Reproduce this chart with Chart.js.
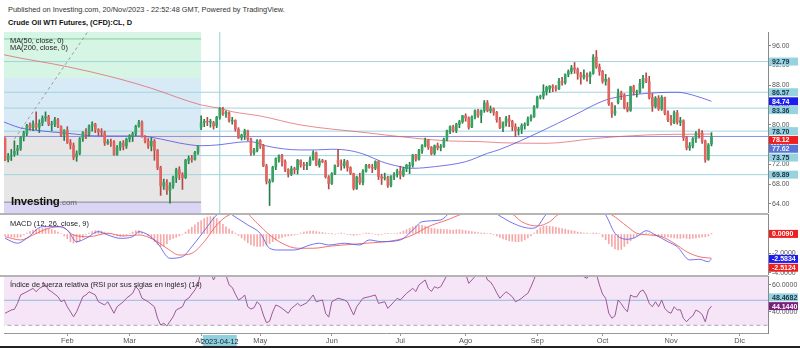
<!DOCTYPE html>
<html lang="es">
<head>
<meta charset="utf-8">
<title>Crude Oil WTI Futures, (CFD):CL, D</title>
<script src="https://cdn.jsdelivr.net/npm/chart.js@4.4.1/dist/chart.umd.min.js"></script>
<style>
  html, body { margin: 0; padding: 0; background: #fff; }
  body { position: relative; width: 800px; height: 348px; overflow: hidden; font-family: "Liberation Sans", Arial, sans-serif; }
  canvas { position: absolute; left: 0; }
  .txt { position: absolute; white-space: nowrap; line-height: 1; font-size: 7.4px; color: #333; }
  .sep { position: absolute; left: 0; width: 768px; height: 2px; background: #b4b4b4; }
  .logo { position: absolute; left: 11px; top: 195.5px; line-height: 1; font-size: 11.5px; font-weight: bold; color: #111; letter-spacing: -0.2px; }
  .logo span { font-size: 8px; font-weight: normal; color: #666; letter-spacing: 0; }
</style>
</head>
<body>
<div class="txt" style="left:8px;top:5.6px;">Published on Investing.com, 20/Nov/2023 - 22:52:48 GMT, Powered by TradingView.</div>
<div class="txt" style="left:8px;top:18.8px;font-weight:bold;color:#111;">Crude Oil WTI Futures, (CFD):CL, D</div>

<canvas id="priceChart" width="800" height="181" style="top:32px"></canvas>
<canvas id="macdChart" width="800" height="61" style="top:214px"></canvas>
<canvas id="rsiChart" width="800" height="72" style="top:276px"></canvas>

<div class="sep" style="top:212.5px"></div>
<div class="sep" style="top:274.5px"></div>
<div style="position:absolute;left:0;top:346px;width:800px;height:2px;background:#222"></div>

<div class="txt" style="left:10px;top:37.2px;color:#222;">MA(50, close, 0)</div>
<div class="txt" style="left:10px;top:44.4px;color:#222;">MA(200, close, 0)</div>
<div class="logo">Investing<span>.com</span></div>
<div class="txt" style="left:10px;top:220.4px;color:#222;">MACD (12, 26, close, 9)</div>
<div class="txt" style="left:10px;top:281.4px;color:#222;">Índice de fuerza relativa (RSI por sus siglas en inglés) (14)</div>

<script>
// daily bars, Jan 3 -> Nov 20 2023: [open, high, low, close]
const ohlc = [
  [80.57,81.50,76.60,76.93],[77.25,77.42,72.74,72.84],[72.90,74.19,72.46,73.67],[73.70,75.00,72.75,73.77],
  [74.00,76.74,73.60,74.63],[74.80,75.83,73.90,75.12],[75.20,77.60,74.80,77.41],[77.50,78.70,76.70,78.39],[78.20,80.10,77.80,79.86],
  [79.90,80.40,78.90,79.40],[79.40,80.80,78.80,80.18],[80.20,82.60,79.00,79.48],[79.50,81.00,78.40,80.33],[80.40,81.80,79.80,81.31],
  [81.40,82.60,80.70,81.62],[81.60,81.90,79.80,80.13],[80.00,80.70,78.80,80.15],[80.10,81.50,79.60,81.01],[81.00,81.30,79.40,79.68],
  [79.60,79.80,77.60,77.90],[77.90,79.00,76.80,78.87],
  // Feb
  [78.90,79.60,76.20,76.41],[76.40,77.00,75.10,75.88],[75.80,76.30,72.90,73.39],
  [73.50,74.70,72.60,74.11],[74.20,77.40,73.90,77.14],[77.20,78.60,76.60,78.47],[78.40,79.20,77.20,78.06],[78.10,80.00,77.70,79.72],
  [79.70,80.60,78.70,80.14],[80.10,80.30,78.40,79.06],[79.00,79.20,77.80,78.59],[78.60,79.20,77.80,78.49],[78.40,78.70,75.80,76.34],
  [76.30,77.00,76.00,76.55],[76.50,77.10,75.60,76.36],[76.40,76.80,73.80,73.95],[74.00,75.80,73.80,75.39],[75.40,76.60,74.80,76.32],
  [76.30,76.80,74.90,75.68],[75.70,77.30,75.20,77.05],
  // Mar
  [77.10,78.00,76.50,77.69],[77.70,78.50,76.60,78.16],[78.20,79.90,77.80,79.68],
  [79.70,80.90,79.50,80.46],[80.50,80.80,77.50,77.58],[77.60,77.80,76.30,76.66],[76.70,77.20,75.20,75.72],[75.70,77.40,74.70,76.68],
  [76.70,77.00,72.80,74.80],[74.80,75.00,70.90,71.33],[71.30,71.60,65.70,67.61],[67.60,69.00,66.90,68.35],[68.30,68.90,65.90,66.74],
  [66.70,68.30,64.12,67.64],[67.60,69.60,67.10,69.33],[69.30,71.20,68.30,70.90],[70.90,71.50,68.90,69.96],[69.90,70.30,66.90,69.26],
  [69.30,73.00,69.10,72.81],[72.80,73.70,72.10,73.20],[73.20,73.80,72.40,72.97],[73.00,74.60,72.80,74.37],[74.40,75.70,74.00,75.67],
  // Apr
  [79.50,81.80,79.00,80.42],[80.40,81.10,79.60,80.71],[80.70,81.50,79.80,80.61],[80.50,81.10,79.50,80.70],
  [80.40,80.70,79.10,79.74],[79.80,81.70,79.40,81.53],[81.50,83.50,81.10,83.26],[83.20,83.50,81.90,82.16],[82.20,82.80,81.50,82.52],
  [82.40,82.60,80.50,80.83],[80.70,81.50,80.10,80.86],[80.90,81.00,78.70,79.16],[79.10,79.40,77.20,77.37],[77.40,78.10,76.90,77.87],
  [77.90,79.10,77.00,78.76],[78.80,78.90,76.80,77.07],[77.10,77.30,73.80,74.30],[74.30,75.20,73.90,74.76],[74.80,77.00,74.50,76.78],
  // May
  [76.80,77.00,75.20,75.66],[75.70,76.00,71.50,71.66],[71.60,72.00,68.00,68.60],[68.20,69.00,63.64,68.56],[68.60,71.60,68.40,71.34],
  [71.40,73.30,70.90,73.16],[73.20,73.90,72.40,73.71],[73.70,74.00,71.60,72.56],[72.60,72.90,70.50,70.87],[70.90,71.10,69.40,70.04],
  [70.00,71.60,69.70,71.11],[71.10,71.40,70.10,70.86],[70.90,73.00,70.00,72.83],[72.80,72.90,71.40,71.86],[71.90,72.40,70.90,71.69],
  [71.70,72.40,70.90,71.99],[72.00,73.50,71.70,72.91],[72.90,74.70,72.80,74.34],[74.30,74.50,71.70,71.83],[71.80,73.10,71.40,72.67],
  [72.70,73.00,72.30,72.50],[72.50,72.80,69.20,69.46],[69.40,69.70,67.00,68.09],
  // Jun
  [68.10,70.30,67.90,70.10],[70.10,71.90,69.90,71.74],
  [72.80,75.00,71.50,72.15],[72.10,72.90,70.80,71.74],[71.70,73.00,71.20,72.53],[72.50,72.80,70.60,71.29],[71.30,71.50,69.90,70.17],
  [70.10,70.20,66.80,67.12],[67.10,69.60,66.90,69.42],[69.40,70.20,67.90,68.27],[68.30,70.90,67.80,70.62],[70.60,72.00,70.40,71.78],
  [71.80,72.00,71.20,71.40],[71.40,72.00,70.30,71.19],[71.20,72.70,70.90,72.53],[72.50,72.70,68.90,69.51],[69.50,70.00,67.90,69.16],
  [69.20,70.20,68.80,69.37],[69.40,69.60,67.30,67.70],[67.70,69.70,67.40,69.56],[69.60,70.30,68.90,69.86],[69.90,71.00,69.40,70.64],
  // Jul
  [70.60,71.60,69.00,69.79],[69.80,71.40,69.50,71.10],[71.10,72.00,70.50,71.79],[71.60,72.40,70.10,71.80],[71.80,74.00,71.40,73.86],
  [73.90,74.00,72.60,72.99],[73.00,75.00,72.80,74.83],[74.80,76.00,74.20,75.75],[75.70,77.30,75.50,76.89],[76.90,77.00,75.00,75.42],
  [75.40,75.60,73.90,74.15],[74.20,75.90,73.90,75.75],[75.80,76.30,74.90,75.35],[75.30,76.00,74.70,75.63],[75.60,77.30,75.40,77.07],
  [77.10,78.90,76.70,78.74],[78.70,79.80,78.20,79.63],[79.60,79.90,78.50,78.78],[78.80,80.30,78.40,80.09],[80.10,80.90,79.40,80.58],
  [80.60,81.90,80.30,81.80],
  // Aug
  [81.80,82.20,80.70,81.37],[81.40,81.60,79.10,79.49],[79.50,81.80,79.40,81.55],[81.60,83.00,81.20,82.82],
  [82.80,83.10,81.50,81.94],[81.90,83.00,80.40,82.92],[82.90,84.90,82.50,84.40],[84.40,84.90,82.60,82.82],[82.80,83.80,82.40,83.19],
  [83.20,83.40,81.90,82.51],[82.50,82.70,80.50,80.99],[81.00,81.50,79.20,79.38],[79.40,80.60,78.60,80.39],[80.40,81.70,79.70,81.25],
  [81.20,81.90,79.60,80.72],[80.70,80.90,78.80,79.64],[79.60,80.20,77.60,78.89],[78.90,79.50,77.90,79.05],[79.00,80.20,78.20,79.83],
  [79.80,80.40,79.10,80.10],[80.10,81.60,79.80,81.16],[81.20,82.00,80.70,81.63],[81.60,83.90,81.50,83.63],
  // Sep
  [83.60,85.80,83.40,85.55],
  [85.60,86.00,85.20,85.80],[85.80,88.10,85.20,86.69],[86.70,87.80,86.00,87.54],[87.20,87.90,86.50,87.87],[87.80,88.10,86.70,87.51],
  [87.50,87.90,86.80,87.29],[87.30,89.40,87.10,88.84],[88.80,89.60,88.00,88.52],[88.50,90.30,88.20,90.16],[90.20,91.10,89.70,90.77],
  [90.80,92.00,90.30,91.48],[91.50,92.60,90.40,91.20],[91.20,91.50,89.20,90.28],[90.30,90.60,88.20,89.63],[89.60,91.10,89.20,90.03],
  [90.00,90.50,88.80,89.68],[89.70,90.70,88.30,90.39],[90.40,94.20,90.20,93.68],[93.70,95.03,91.40,91.71],[91.70,92.30,90.00,90.79],
  // Oct
  [90.80,91.00,88.40,88.82],[88.80,90.20,88.00,89.23],[89.20,89.50,83.90,84.22],[84.20,84.50,81.50,82.31],[82.30,83.90,81.90,82.79],
  [84.50,87.20,84.20,86.38],[86.40,86.80,85.10,85.97],[86.00,86.30,83.20,83.49],[83.50,84.50,82.60,82.91],[82.90,87.80,82.70,87.69],
  [87.70,88.00,86.00,86.66],[86.50,87.00,85.60,86.66],[86.70,89.20,86.40,88.32],[88.30,90.00,87.40,89.37],[89.40,90.50,88.50,88.75],
  [88.70,89.80,85.20,85.49],[85.50,86.30,82.70,83.74],[83.70,85.70,83.40,85.39],[85.40,85.90,82.90,83.21],[83.20,85.90,82.90,85.54],
  [85.50,85.60,82.00,82.31],[82.30,82.80,80.60,81.02],
  // Nov
  [81.00,81.90,79.90,80.44],[80.40,82.80,80.20,82.46],[82.40,82.90,80.10,80.51],
  [80.50,81.50,79.80,80.82],[80.80,81.00,76.80,77.37],[77.40,77.60,74.90,75.33],[75.30,76.40,74.80,75.74],[75.70,77.40,75.30,77.17],
  [77.20,78.60,76.40,78.26],[78.40,79.10,77.30,78.26],[78.30,78.80,76.20,76.66],[76.70,76.90,72.40,72.90],[73.00,76.20,72.80,75.89],
  [76.10,78.40,75.70,77.62]
];

// bar index of the first session of each month and its label
const monthStarts = [21, 41, 64, 83, 106, 128, 149, 172, 193, 215, 237];
const monthNames = ['Feb', 'Mar', 'Abr', 'May', 'Jun', 'Jul', 'Ago', 'Sep', 'Oct', 'Nov', 'Dic'];

// moving averages as [bar, value]
const ma50 = [
  [-1,80.96],[6,79.34],[10,78.94],[21,78.27],[31,77.72],[44,77.72],[51,77.11],[57,76.30],[64,75.75],[70,75.95],
  [76,76.45],[80,76.57],[82,76.30],[85,75.70],[96,74.89],[101,74.90],[106,75.03],[112,74.74],[117,73.87],[122,72.52],
  [128,71.51],[132,71.18],[139,71.51],[149,72.52],[156,74.20],[160,75.00],[173,78.59],[184,81.97],[194,85.00],[202,86.00],
  [211,86.49],[217,86.57],[222,86.00],[228,84.74]
];
const ma200 = [
  [-1,94.45],[1,94.12],[21,91.75],[37,89.40],[48,87.38],[64,84.00],[70,83.33],[74,82.64],[83,81.77],[96,79.95],
  [117,78.39],[133,77.25],[144,76.71],[154,76.57],[160,76.36],[175,76.24],[191,77.25],[207,77.92],[228,78.12]
];

// horizontal levels across the price pane
const levels = [92.79, 86.57, 83.36, 78.70, 73.75, 69.89];

// shaded zones on the left part of the price pane
const zoneEnd = 64;
const zoneEdges = [101, 89.46, 78.33, 64.33, 60];
const zoneColors = ['#d6f5e4', '#d7eaf6', '#e6e6e6', '#d9d6f5'];
const zoneTopLine = 97.36;
const trendLine = [[4, 77.1], [32, 102.9]];

const markedBar = 70;
const markedDate = '2023-04-12';

// MACD (12, 26, 9) as [bar, value]
const macdLine = [
  [1,-0.45],[5,-0.96],[8,-0.45],[13,0.76],[18,0.76],[21,0.41],[24,-0.80],[27,-0.45],[31,0.24],[34,-0.10],
  [38,-0.45],[42,-0.28],[44,0.24],[47,-0.10],[50,-0.96],[54,-2.52],[58,-2.35],[61,-1.32],[66,0.76],[69,1.97],
  [72,2.40],[74,1.97],[79,0.93],[83,0.07],[86,-1.48],[89,-1.66],[94,-1.66],[99,-1.14],[102,-0.96],[105,-1.14],
  [110,-0.96],[115,-1.14],[118,-0.62],[122,-0.80],[128,-0.62],[132,0.41],[135,1.27],[141,1.45],[144,2.20],[150,2.60],
  [157,2.40],[159,2.07],[163,1.30],[167,0.76],[170,0.59],[172,0.76],[175,2.07],[179,2.60],[186,2.90],[192,2.60],
  [194,1.97],[197,0.07],[201,-0.55],[204,-0.28],[207,0.34],[210,-0.10],[214,-0.80],[217,-1.32],[221,-2.69],[224,-2.62],
  [227,-2.87],[228,-2.5834]
];
const signalLine = [
  [1,-0.28],[6,-0.62],[10,-0.10],[15,0.59],[19,0.76],[23,-0.10],[28,-0.28],[34,0.07],[39,-0.21],[44,-0.10],
  [49,-0.62],[53,-1.48],[57,-2.18],[61,-2.00],[65,-0.80],[69,0.93],[73,1.97],[78,2.20],[82,1.11],[86,-0.10],
  [90,-0.96],[95,-1.48],[100,-1.48],[106,-1.24],[117,-0.96],[127,-0.62],[132,-0.10],[137,0.76],[143,1.45],[148,2.07],
  [154,2.40],[160,2.30],[164,2.07],[167,1.27],[172,0.83],[176,1.27],[179,2.07],[186,2.50],[192,2.50],[196,1.97],
  [201,0.76],[204,0.07],[208,-0.10],[212,-0.28],[216,-0.96],[220,-1.83],[224,-2.35],[228,-2.5124]
];
// one histogram value per bar
const macdHist = [
  -0.15,-0.2,-0.25,-0.3,-0.35,-0.35,-0.3,-0.1,
  0.1,0.25,0.4,0.5,0.55,0.6,0.6,0.55,0.45,0.35,0.2,0.05,
  -0.2,-0.5,-0.8,-0.95,-0.9,-0.7,-0.4,
  -0.1,0.1,0.25,0.35,0.35,0.3,0.2,0.1,0.02,
  -0.1,-0.2,-0.25,-0.2,-0.1,0.05,
  0.2,0.35,0.35,0.2,0.05,
  -0.2,-0.5,-0.8,-1.1,-1.3,-1.25,-1.0,
  -0.6,-0.45,-0.35,-0.2,-0.05,
  0.2,0.45,0.7,0.95,1.2,1.4,1.6,1.75,1.8,1.75,1.6,
  1.3,1.0,0.75,0.5,0.3,0.1,
  -0.15,-0.4,-0.65,-0.9,-1.1,-1.25,-1.3,-1.3,-1.25,-1.15,-1.0,-0.8,-0.6,
  -0.45,-0.35,-0.25,-0.2,-0.15,-0.1,-0.05,
  0.1,0.2,0.25,0.3,0.3,0.25,0.2,0.15,0.1,0.05,0.02,
  -0.05,0.05,0.1,0.05,-0.05,-0.1,-0.15,-0.1,-0.05,0.05,0.1,0.1,0.05,-0.05,-0.1,-0.05,0.05,0.08,0.05,0.05,0.08,
  0.15,0.3,0.45,0.6,0.75,0.85,0.93,0.9,0.8,0.7,
  0.6,0.55,0.5,0.5,0.45,0.45,0.4,0.4,0.45,0.45,0.4,0.35,0.3,0.25,0.2,0.15,0.1,0.1,
  0.05,0.02,-0.05,
  -0.2,-0.35,-0.5,-0.6,-0.7,-0.75,-0.8,-0.8,-0.75,-0.6,-0.4,-0.2,
  0.1,0.4,0.65,0.8,0.83,0.8,0.75,0.7,0.6,0.55,0.5,0.4,0.35,0.3,0.2,
  0.15,0.1,0.1,0.05,0.1,0.1,0.05,
  -0.3,-0.6,-1.0,-1.3,-1.55,-1.66,-1.6,
  -1.3,-1.0,-0.7,-0.4,
  -0.2,-0.1,0.05,0.1,0.05,-0.1,-0.2,-0.25,-0.3,-0.3,
  -0.3,-0.35,-0.4,-0.45,-0.45,-0.4,-0.45,-0.5,-0.45,-0.4,-0.35,-0.3,-0.3,-0.2,0.009
];

// RSI (14) as [bar, value]
const rsi = [
  [1,38.9],[3,41.3],[4,41.8],[5,46.2],[6,52.4],[8,54.8],[10,57.3],[11,54.8],[12,57.3],[14,59.8],
  [15,56.1],[16,54.8],[18,51.1],[19,47.4],[20,48.7],[21,43.7],[23,36.3],[24,40.0],[26,51.1],[27,52.4],
  [28,54.8],[30,52.4],[31,47.4],[33,45.0],[34,47.4],[36,38.9],[37,43.7],[39,47.4],[40,50.0],[42,53.6],
  [43,58.5],[44,56.1],[45,50.0],[47,47.4],[49,43.7],[50,35.2],[51,30.2],[52,31.5],[53,29.5],[55,36.3],
  [56,41.3],[58,43.7],[59,48.7],[60,50.0],[62,56.1],[63,60.5],[64,70.0],[65,70.0],[66,69.0],[67,69.0],
  [68,63.5],[69,68.0],[70,72.0],[71,69.0],[72,67.0],[73,59.8],[74,58.0],[75,53.0],[76,48.7],[77,50.0],
  [78,52.4],[79,43.7],[80,42.0],[81,43.0],[82,47.4],[83,45.0],[84,37.6],[85,31.9],[86,33.0],[87,40.0],
  [88,45.0],[89,44.0],[90,42.5],[92,38.9],[93,42.5],[95,46.2],[96,44.3],[98,46.7],[100,52.4],[101,47.4],
  [103,48.7],[104,38.9],[105,36.0],[106,47.4],[108,50.0],[110,48.7],[111,47.4],[113,37.6],[114,43.7],[116,50.0],
  [118,51.1],[120,52.4],[121,46.2],[123,47.4],[124,42.5],[126,47.4],[127,50.0],[128,48.7],[130,53.6],[132,57.3],
  [133,55.0],[134,59.8],[136,63.5],[137,57.3],[138,55.0],[139,58.5],[140,57.5],[141,58.5],[143,67.0],[145,69.0],
  [147,70.0],[149,68.0],[150,61.0],[152,66.0],[154,67.0],[155,70.0],[156,63.5],[157,62.0],[158,58.5],[159,54.0],
  [160,50.0],[161,52.5],[162,54.8],[163,53.0],[164,51.1],[165,47.4],[166,48.5],[167,50.0],[168,52.0],[169,53.6],
  [170,58.5],[171,64.0],[172,70.0],[175,72.0],[180,72.0],[185,70.0],[186,67.0],[188,64.7],[190,72.0],[191,68.0],
  [192,59.8],[193,53.0],[194,50.0],[195,38.9],[196,35.2],[197,37.0],[198,48.7],[199,46.0],[200,42.5],[201,40.0],
  [202,52.4],[203,51.1],[204,51.0],[205,54.8],[206,56.1],[207,52.4],[208,46.2],[209,43.7],[210,47.4],[211,43.7],
  [212,48.7],[213,42.5],[214,40.0],[215,38.9],[216,43.7],[217,41.3],[218,41.5],[219,35.0],[220,32.6],[221,35.2],
  [222,37.0],[223,41.3],[224,40.0],[225,38.0],[226,32.6],[227,41.3],[228,44.144]
];
const rsiMarker = 48.4682;
const rsiLower = 30;

const priceTicks = [64, 68, 72, 76, 80, 84, 88, 92, 96];
const macdTicks = [0, -2, -4];
const rsiTicks = [40, 60];

// visible bar range (pane spans x = 4..768)
const X_MIN = 0.66, X_MAX = 246.16;
const FONT = '"Liberation Sans", Arial, sans-serif';

Chart.defaults.font.family = FONT;
Chart.defaults.font.size = 7.4;
Chart.defaults.color = '#444';

const UP = '#35a362', DOWN = '#e2655f';
const UP_WICK = '#2a7d4b', DOWN_WICK = '#b24b46';
const CYAN = '#9fd6df', CYAN_TAG = '#97d3de';

const toXY = pts => pts.map(([x, y]) => ({ x, y }));
const lastOf = pts => pts[pts.length - 1][1];
const hline = (v, from, to) => [[from, v], [to, v]];

function lineSet(points, color, extra) {
  return Object.assign({
    type: 'line', data: toXY(points), borderColor: color, borderWidth: 1,
    pointRadius: 0, fill: false, tension: 0
  }, extra || {});
}

function xAxis(show) {
  const axis = { type: 'linear', min: X_MIN, max: X_MAX, offset: false, display: show };
  if (show) {
    Object.assign(axis, {
      afterBuildTicks: s => { s.ticks = monthStarts.map(v => ({ value: v })); },
      afterFit: s => { s.height = 15; s.paddingLeft = 0; s.paddingRight = 0; },
      ticks: { autoSkip: false, maxRotation: 0, padding: 1, color: '#555', callback: (v, i) => monthNames[i] },
      grid: { drawOnChartArea: false, tickLength: 3, color: '#999' },
      border: { color: '#999' }
    });
  }
  return axis;
}

function yAxis(min, max, ticks, digits) {
  return {
    type: 'linear', position: 'right', min, max,
    afterBuildTicks: s => { s.ticks = ticks.map(v => ({ value: v })); },
    afterFit: s => { s.width = 32; s.paddingTop = 0; s.paddingBottom = 0; },
    ticks: { padding: 1, color: '#555', font: { size: 7 }, callback: v => v.toFixed(digits) },
    grid: { drawOnChartArea: false, tickLength: 3, color: '#888' },
    border: { color: '#888' }
  };
}

// value boxes on the right axis; dir 1 pushes overlapping boxes down, -1 up
function drawTags(chart, tags, digits, dir) {
  const { ctx, chartArea } = chart;
  const y = chart.scales.y;
  const h = 8, gap = 8.8;
  const placed = tags.map(t => Object.assign({}, t, { py: y.getPixelForValue(t.value) }));
  if (dir > 0) {
    for (let k = 1; k < placed.length; k++) placed[k].py = Math.max(placed[k].py, placed[k - 1].py + gap);
  } else {
    for (let k = placed.length - 2; k >= 0; k--) placed[k].py = Math.min(placed[k].py, placed[k + 1].py - gap);
  }
  ctx.save();
  ctx.font = 'bold 7px ' + FONT;
  ctx.textBaseline = 'middle';
  placed.forEach(t => {
    ctx.fillStyle = t.bg;
    ctx.fillRect(chartArea.right + 1, t.py - h / 2, 29, h);
    ctx.fillStyle = t.fg;
    ctx.fillText(t.value.toFixed(digits), chartArea.right + 4, t.py + 0.5);
  });
  ctx.restore();
}

const baseOptions = () => ({
  responsive: false, animation: false, devicePixelRatio: 1, events: [],
  layout: { padding: { left: 4, right: 0, top: 0, bottom: 0 } },
  plugins: { legend: { display: false }, tooltip: { enabled: false } }
});

// ---- price pane ----
const priceDecor = {
  id: 'priceDecor',
  beforeDatasetsDraw(chart) {
    const { ctx, chartArea: a, scales: { x, y } } = chart;
    const right = x.getPixelForValue(zoneEnd);
    ctx.save();
    ctx.beginPath();
    ctx.rect(a.left, a.top, a.width, a.height);
    ctx.clip();
    zoneColors.forEach((c, k) => {
      const top = y.getPixelForValue(zoneEdges[k]);
      const bottom = y.getPixelForValue(zoneEdges[k + 1]);
      ctx.fillStyle = c;
      ctx.fillRect(a.left, top, right - a.left, bottom - top);
    });
    ctx.restore();
  },
  afterDraw(chart) {
    const cyan = { bg: CYAN_TAG, fg: '#17324a' };
    const tags = levels.map(v => Object.assign({ value: v }, cyan));
    tags.push({ value: lastOf(ma50), bg: '#1c1cf0', fg: '#fff' });
    tags.push({ value: lastOf(ma200), bg: '#ef1f1f', fg: '#fff' });
    tags.push({ value: ohlc[ohlc.length - 1][3], bg: '#5874d6', fg: '#eef' });
    tags.sort((p, q) => q.value - p.value);
    drawTags(chart, tags, 2, 1);
  }
};

const lastClose = ohlc[ohlc.length - 1][3];
const upFlags = ohlc.map(d => d[3] >= d[0]);

new Chart(document.getElementById('priceChart'), {
  type: 'bar',
  data: {
    datasets: [
      { type: 'bar', data: ohlc.map((d, i) => ({ x: i, y: [d[0], d[3]] })),
        backgroundColor: upFlags.map(u => u ? UP : DOWN), barThickness: 2, grouped: false, order: 1 },
      { type: 'bar', data: ohlc.map((d, i) => ({ x: i, y: [d[2], d[1]] })),
        backgroundColor: upFlags.map(u => u ? UP_WICK : DOWN_WICK), barThickness: 1, grouped: false, order: 2 },
      lineSet(ma50, 'rgba(70,70,225,0.75)', { tension: 0.4, cubicInterpolationMode: 'monotone', order: 3 }),
      lineSet(ma200, 'rgba(225,90,90,0.7)', { tension: 0.4, cubicInterpolationMode: 'monotone', order: 4 }),
      lineSet(trendLine, '#9c9c9c', { borderDash: [3, 3], order: 5 }),
      lineSet(hline(lastClose, -5, 250), '#8d8fe6', { order: 6 }),
      ...levels.map(v => lineSet(hline(v, -5, 250), CYAN, { order: 7 })),
      lineSet(hline(zoneTopLine, -5, zoneEnd), '#7fcf97', { order: 8 }),
      lineSet(hline(zoneEdges[3], -5, zoneEnd), '#8a8a8a', { order: 8 }),
      lineSet([[markedBar, 50], [markedBar, 110]], '#8fd0dc', { order: 8 })
    ]
  },
  options: Object.assign(baseOptions(), {
    scales: { x: xAxis(false), y: yAxis(62.13, 98.77, priceTicks, 2) }
  }),
  plugins: [priceDecor]
});

// ---- MACD pane ----
new Chart(document.getElementById('macdChart'), {
  type: 'bar',
  data: {
    datasets: [
      lineSet(macdLine, 'rgba(90,90,240,0.85)', { tension: 0.4, cubicInterpolationMode: 'monotone', order: 1 }),
      lineSet(signalLine, 'rgba(240,90,90,0.85)', { tension: 0.4, cubicInterpolationMode: 'monotone', order: 2 }),
      { type: 'bar', data: macdHist.map((v, i) => ({ x: i, y: v })),
        backgroundColor: 'rgba(238,110,110,0.6)', barThickness: 1, grouped: false, order: 3 }
    ]
  },
  options: Object.assign(baseOptions(), {
    scales: { x: xAxis(false), y: yAxis(-4.25, 2.07, macdTicks, 4) }
  }),
  plugins: [{
    id: 'macdTags',
    afterDraw(chart) {
      drawTags(chart, [
        { value: macdHist[macdHist.length - 1], bg: '#ef1f1f', fg: '#fff' },
        { value: lastOf(macdLine), bg: '#1c1cf0', fg: '#fff' },
        { value: lastOf(signalLine), bg: '#ef1f1f', fg: '#fff' }
      ], 4, 1);
    }
  }]
});

// ---- RSI pane ----
new Chart(document.getElementById('rsiChart'), {
  type: 'line',
  data: {
    datasets: [
      lineSet(rsi, '#9a5a9a', { order: 1 }),
      lineSet(hline(rsiMarker, -5, 250), '#93b9e4', { order: 2 }),
      lineSet(hline(rsiLower, -5, 250), '#a8a8a8', { borderDash: [4, 3], order: 3 })
    ]
  },
  options: Object.assign(baseOptions(), {
    scales: { x: xAxis(true), y: yAxis(24.3, 66.43, rsiTicks, 4) }
  }),
  plugins: [{
    id: 'rsiDecor',
    beforeDatasetsDraw(chart) {
      const { ctx, chartArea: a, scales: { y } } = chart;
      ctx.save();
      ctx.fillStyle = '#f6e5f6';
      ctx.fillRect(a.left, a.top, a.width, y.getPixelForValue(rsiLower) - a.top);
      ctx.restore();
    },
    afterDraw(chart) {
      drawTags(chart, [
        { value: rsiMarker, bg: CYAN_TAG, fg: '#17324a' },
        { value: lastOf(rsi), bg: '#7a1f7a', fg: '#fff' }
      ], 4, -1);
      const { ctx, chartArea: a, scales: { x } } = chart;
      const cx = x.getPixelForValue(markedBar);
      ctx.save();
      ctx.fillStyle = '#8fd0dc';
      ctx.fillRect(cx - 17, a.bottom + 2, 34, 12);
      ctx.fillStyle = '#123';
      ctx.font = '7.4px ' + FONT;
      ctx.textAlign = 'center';
      ctx.textBaseline = 'middle';
      ctx.fillText(markedDate, cx, a.bottom + 8.5);
      ctx.restore();
    }
  }]
});
</script>
</body>
</html>
